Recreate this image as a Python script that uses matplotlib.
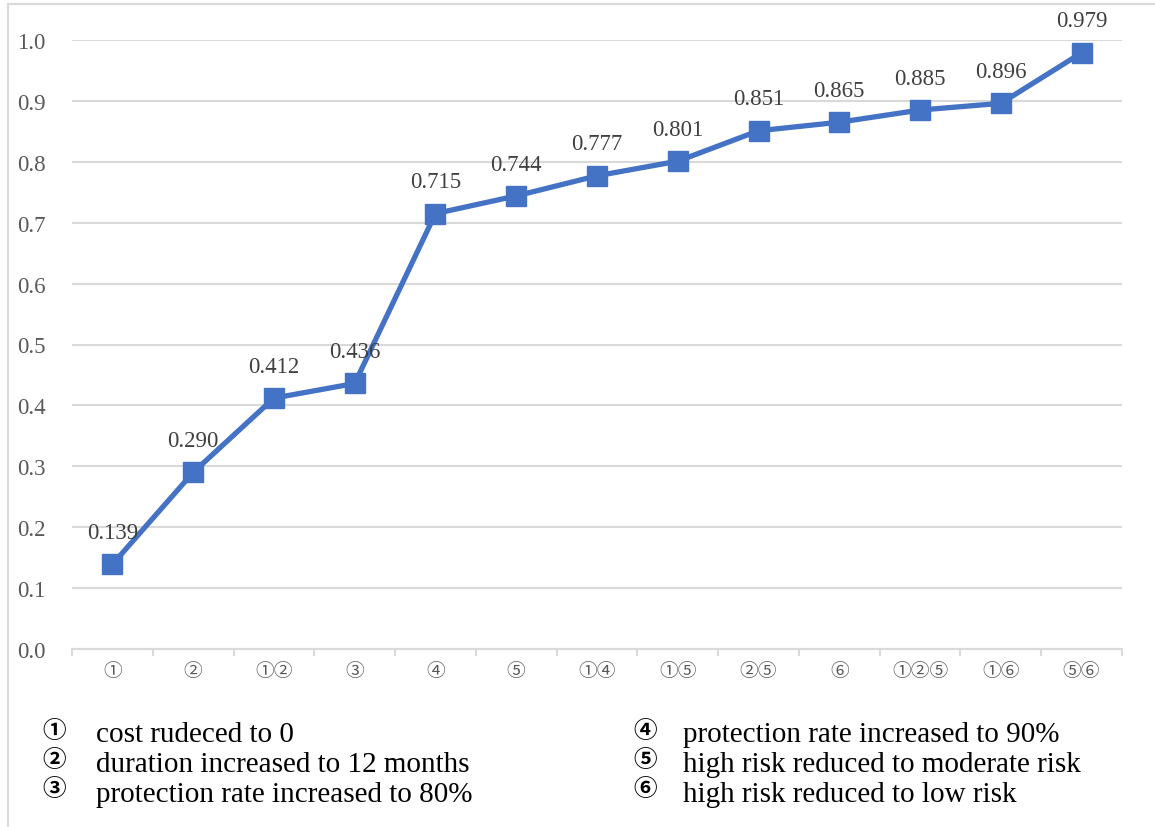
import matplotlib.pyplot as plt
import numpy as np

plt.rcParams['font.family'] = ['Liberation Serif', 'Noto Sans CJK SC', 'DejaVu Sans']

# scenarios (combinations of measures) and the resulting values
scenarios = ["①", "②", "①②", "③", "④", "⑤", "①④", "①⑤", "②⑤", "⑥", "①②⑤", "①⑥", "⑤⑥"]
values = [0.139, 0.290, 0.412, 0.436, 0.715, 0.744, 0.777, 0.801, 0.851, 0.865, 0.885, 0.896, 0.979]

# legend notes for the circled numbers
marks_left = ["①", "②", "③"]
notes_left = ["cost rudeced to 0", "duration increased to 12 months", "protection rate increased to 80%"]
marks_right = ["④", "⑤", "⑥"]
notes_right = ["protection rate increased to 90%", "high risk reduced to moderate risk", "high risk reduced to low risk"]

blue = "#4472C4"
grid = "#d9d9d9"
W, H = 1155, 828

fig = plt.figure(figsize=(W / 100, H / 100), dpi=100)
ax = fig.add_axes([72 / W, 1 - 650 / H, (1122 - 72) / W, (650 - 41) / H])

x = np.arange(len(scenarios))
ax.plot(x, values, color=blue, lw=3.8, marker="s", markersize=14, zorder=3)

for xi, v in zip(x, values):
    ax.annotate(f"{v:.3f}", (xi, v), xytext=(0, 19), textcoords="offset points",
                ha="center", va="baseline", fontsize=16.5, color="#404040", annotation_clip=False)

ax.set_xlim(-0.5, len(scenarios) - 0.5)
ax.set_ylim(0, 1.0)
yt = np.arange(0, 1.01, 0.1)
ax.set_yticks(yt)
ax.set_yticklabels([f"{t:.1f}" for t in yt], fontsize=16.5, color="#595959")
ax.yaxis.grid(True, color=grid, lw=1.5)
ax.set_axisbelow(True)

ax.set_xticks(x)
ax.set_xticklabels(scenarios, fontsize=13.5, color="#595959")
ax.set_xticks(np.arange(-0.5, len(scenarios)), minor=True)
ax.tick_params(axis="x", which="major", length=0, pad=10)
ax.tick_params(axis="x", which="minor", length=5, color=grid, width=1.5)
ax.tick_params(axis="y", length=0, pad=19)

for side in ["top", "right", "left"]:
    ax.spines[side].set_visible(False)
ax.spines["bottom"].set_color(grid)
ax.spines["bottom"].set_linewidth(1.5)

# light frame around the whole chart
fig.patches.append(plt.Rectangle((8 / W, -0.01), 1.1, 1 - 5 / H + 0.01, transform=fig.transFigure,
                                 fill=False, edgecolor=grid, lw=1.5))

mark_y = [732, 761, 790]
text_y = [742, 772, 802]
for mk, note, ym, yb in zip(marks_left, notes_left, mark_y, text_y):
    fig.text(54 / W, 1 - ym / H, mk, fontsize=17, fontweight="bold", ha="center", va="center")
    fig.text(96 / W, 1 - yb / H, note, fontsize=21, ha="left", va="baseline")
for mk, note, ym, yb in zip(marks_right, notes_right, mark_y, text_y):
    fig.text(645 / W, 1 - ym / H, mk, fontsize=17, fontweight="bold", ha="center", va="center")
    fig.text(683 / W, 1 - yb / H, note, fontsize=21, ha="left", va="baseline")

fig.savefig("out.png", dpi=100)
